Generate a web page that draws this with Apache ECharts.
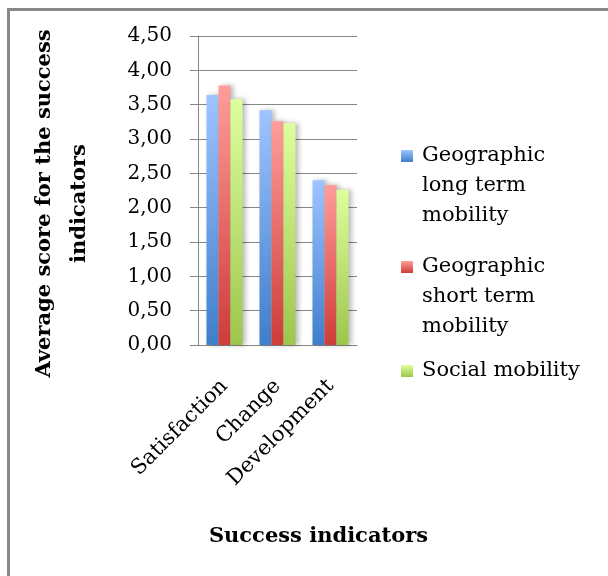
<!DOCTYPE html>
<html>
<head>
<meta charset="utf-8">
<script src="https://cdn.jsdelivr.net/npm/echarts@6/dist/echarts.min.js"></script>
<style>
  html, body { margin: 0; padding: 0; background: #fff; overflow: hidden; }
  #chart { width: 608px; height: 576px; }
</style>
</head>
<body>
<div id="chart"></div>
<script>
// Success indicators by mobility type
var categories = ['Satisfaction', 'Change', 'Development'];
var seriesNames = ['Geographic long term mobility', 'Geographic short term mobility', 'Social mobility'];
// Legend text; blank lines above keep the swatch level with the first line
var legendLines = {
  'Geographic long term mobility': '\n\nGeographic\nlong term\nmobility',
  'Geographic short term mobility': '\n\nGeographic\nshort term\nmobility',
  'Social mobility': 'Social mobility'
};
var longTerm = [3.64, 3.42, 2.40];
var shortTerm = [3.78, 3.26, 2.33];
var social = [3.58, 3.23, 2.26];
var yTicks = { min: 0, max: 4.5, step: 0.5 };

var FONT = 'DejaVu Serif';

function grad(top, bottom) {
  return new echarts.graphic.LinearGradient(0, 0, 0, 1, [
    { offset: 0, color: top },
    { offset: 1, color: bottom }
  ]);
}

var fills = [
  grad('#9ec4ff', '#3f7ecb'),
  grad('#ff9d9a', '#cd3c39'),
  grad('#ddff9c', '#9cc64b')
];

function barSeries(name, data, fill) {
  return {
    name: name,
    type: 'bar',
    data: data,
    barGap: '0%',
    barCategoryGap: '32%',
    itemStyle: {
      color: fill,
      shadowColor: 'rgba(0,0,0,0.28)',
      shadowBlur: 5,
      shadowOffsetX: 3,
      shadowOffsetY: 0
    }
  };
}

function legendFor(name, top) {
  return {
    data: [name],
    left: 401,
    top: top,
    orient: 'vertical',
    padding: 0,
    itemWidth: 12,
    itemHeight: 12,
    icon: 'rect',
    formatter: function (n) { return legendLines[n]; },
    textStyle: {
      fontFamily: FONT,
      fontSize: 21,
      color: '#000',
      lineHeight: 30,
      padding: [0, 0, 0, 4]
    }
  };
}

var chart = echarts.init(document.getElementById('chart'), null, { renderer: 'canvas' });
chart.setOption({
  animation: false,
  backgroundColor: '#fff',
  graphic: [{
    type: 'polyline',
    shape: { points: [[8.5, 640], [8.5, 9.5], [640, 9.5]] },
    style: { fill: 'none', stroke: '#878787', lineWidth: 3 },
    silent: true
  }],
  grid: { left: 198, top: 36, width: 159, height: 309, containLabel: false },
  legend: [
    legendFor(seriesNames[0], 156 - 75),
    legendFor(seriesNames[1], 267 - 75),
    legendFor(seriesNames[2], 371 - 15)
  ],
  xAxis: {
    type: 'category',
    data: categories,
    name: 'Success indicators',
    nameLocation: 'middle',
    nameGap: 181,
    nameTextStyle: {
      fontFamily: FONT, fontSize: 21, fontWeight: 'bold', color: '#000',
      padding: [0, 0, 0, 82]
    },
    axisLine: { lineStyle: { color: '#868686', width: 1 } },
    axisTick: { show: false },
    axisLabel: {
      rotate: 45,
      interval: 0,
      margin: 38,
      fontFamily: FONT,
      fontSize: 21,
      color: '#000'
    }
  },
  yAxis: {
    type: 'value',
    min: yTicks.min,
    max: yTicks.max,
    interval: yTicks.step,
    name: 'Average score for the success\nindicators',
    nameLocation: 'middle',
    nameRotate: 90,
    nameGap: 101,
    nameTextStyle: {
      fontFamily: FONT, fontSize: 21, fontWeight: 'bold', color: '#000',
      lineHeight: 35,
      padding: [0, 26, 0, 0]
    },
    axisLine: { show: true, lineStyle: { color: '#868686', width: 1 } },
    axisTick: { show: true, inside: false, length: 8, lineStyle: { color: '#868686' } },
    splitLine: { show: true, lineStyle: { color: '#868686', width: 1 } },
    axisLabel: {
      margin: 26,
      fontFamily: FONT,
      fontSize: 20,
      color: '#000',
      formatter: function (v) { return v.toFixed(2).replace('.', ','); }
    }
  },
  series: [
    barSeries(seriesNames[0], longTerm, fills[0]),
    barSeries(seriesNames[1], shortTerm, fills[1]),
    barSeries(seriesNames[2], social, fills[2])
  ]
});
</script>
</body>
</html>
